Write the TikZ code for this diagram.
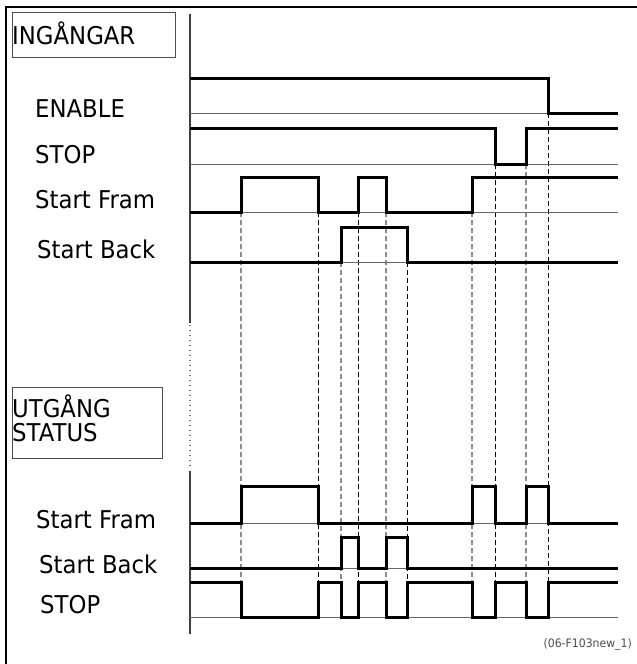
\documentclass[tikz,border=0pt]{standalone}
\usepackage{fontspec}
\setmainfont{DejaVu Sans}[FakeStretch=0.93]
\begin{document}
\begin{tikzpicture}[x=1pt,y=-1pt,
  frame/.style={line width=2.6pt,black},
  axis/.style={line width=1.2pt,black!75},
  axisgap/.style={line width=1.2pt,black!55,dash pattern=on 1pt off 4pt},
  sig/.style={line width=3pt,black,line join=miter},
  base/.style={line width=0.8pt,black!60},
  guidegray/.style={line width=1.4pt,black!45,dash pattern=on 5pt off 3pt},
  guideblack/.style={line width=0.9pt,black,dash pattern=on 5pt off 3pt},
  titlebox/.style={draw=black!70,line width=0.8pt},
  lab/.style={anchor=base west,inner sep=0pt,font=\fontsize{24.5}{23}\selectfont},
  heading/.style={anchor=base west,inner sep=0pt,align=left,font=\fontsize{24.5}{24}\selectfont},
  caption/.style={anchor=base east,inner sep=0pt,text=black!70,font=\fontsize{11.7}{12}\selectfont}]
\useasboundingbox (0,0) rectangle (637,664);

% outer frame (top and left edges)
\draw[frame] (6,664) -- (6,7) -- (637,7);

% section headings
\draw[titlebox] (12.5,12.5) rectangle (175,57);
\node[heading] (hin) at (12,44) {INGÅNGAR};
\draw[titlebox] (12.5,387) rectangle (162,458);
\node[heading] (hout) at (12,441) {UTGÅNG\\STATUS};

% time axis, broken between inputs and outputs
\draw[axis] (190,14) -- (190,323);
\draw[axisgap] (190,325) -- (190,470);
\draw[axis] (190,471) -- (190,634);

% signal names
\node[lab] (lenable) at (35,117) {ENABLE};
\node[lab] (lstop)   at (35,163) {STOP};
\node[lab] (lfram)   at (35,208) {Start Fram};
\node[lab] (lback)   at (37,258) {Start Back};
\node[lab] (ofram)   at (36,528) {Start Fram};
\node[lab] (oback)   at (39,573) {Start Back};
\node[lab] (ostop)   at (40,613) {STOP};

% guide lines at every switching instant
\draw[guidegray]  (241,212) -- (241,582);
\draw[guideblack] (318,212) -- (318,582);
\draw[guidegray]  (341,262) -- (341,582);
\draw[guideblack] (358,212) -- (358,582);
\draw[guidegray]  (386,212) -- (386,582);
\draw[guideblack] (407,262) -- (407,582);
\draw[guidegray]  (472,212) -- (472,582);
\draw[guideblack] (495,164) -- (495,582);
\draw[guidegray]  (526,164) -- (526,582);
\draw[guideblack] (548,113) -- (548,582);

% low-level reference lines
\foreach \y in {113,164,212,262,523,568,617}
  \draw[base] (190,\y) -- (618,\y);

% inputs
\draw[sig] (190,78) -- (548,78) -- (548,113) -- (618,113);
\draw[sig] (190,128) -- (495,128) -- (495,164) -- (526,164) -- (526,128) -- (618,128);
\draw[sig] (190,212) -- (241,212) -- (241,177) -- (318,177) -- (318,212)
  -- (358,212) -- (358,177) -- (386,177) -- (386,212) -- (472,212)
  -- (472,177) -- (618,177);
\draw[sig] (190,262) -- (341,262) -- (341,227) -- (407,227) -- (407,262) -- (618,262);

% output status
\draw[sig] (190,523) -- (241,523) -- (241,486) -- (318,486) -- (318,523)
  -- (472,523) -- (472,486) -- (495,486) -- (495,523) -- (526,523)
  -- (526,486) -- (548,486) -- (548,523) -- (618,523);
\draw[sig] (190,568) -- (341,568) -- (341,537) -- (358,537) -- (358,568)
  -- (386,568) -- (386,537) -- (407,537) -- (407,568) -- (618,568);
\draw[sig] (190,582) -- (241,582) -- (241,617) -- (318,617) -- (318,582)
  -- (341,582) -- (341,617) -- (358,617) -- (358,582) -- (386,582)
  -- (386,617) -- (407,617) -- (407,582) -- (472,582) -- (472,617)
  -- (495,617) -- (495,582) -- (526,582) -- (526,617) -- (548,617)
  -- (548,582) -- (618,582);

% figure reference
\node[caption] (ref) at (632,647) {(06-F103new\_1)};
\end{tikzpicture}
\end{document}
